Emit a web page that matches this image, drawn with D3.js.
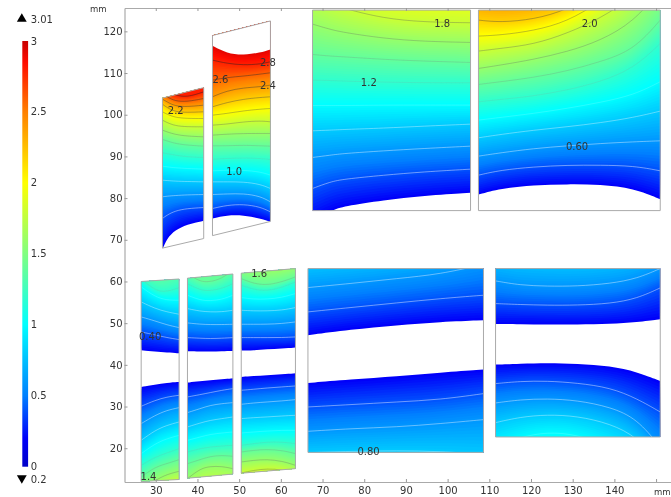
<!DOCTYPE html>
<html>
<head>
<meta charset="utf-8">
<style>
  html, body { margin: 0; padding: 0; background: #fff; }
  svg { display: block; filter: blur(0.4px); }
  text { font-family: "DejaVu Sans", sans-serif; fill: #333; }
</style>
<script src="https://cdn.jsdelivr.net/npm/d3@7"></script>
</head>
<body>
<svg id="chart" width="671" height="497"></svg>
<script>
'use strict';

// value of each row in the contour tables below
var levels = [0.2, 0.4, 0.6, 0.8, 1.0, 1.2, 1.4, 1.6, 1.8, 2.0, 2.2, 2.4, 2.6, 2.8, 3.0];

var colorValues = [0, 0.2, 0.5, 1, 1.5, 2, 2.5, 2.85, 3];
var colorHexes = ['#0000c8', '#0000fa', '#0080ff', '#00ffff', '#80ff80', '#ffff00', '#ff8000', '#ff0c00', '#c80000'];

var xTicks = [30, 40, 50, 60, 70, 80, 90, 100, 110, 120, 130, 140, 150];
var yTicks = [20, 30, 40, 50, 60, 70, 80, 90, 100, 110, 120];
var barTicks = [0, 0.5, 1, 1.5, 2, 2.5, 3];
var rangeMax = 3.01;
var rangeMin = 0.2;

// label, x mm, y mm
var contourLabels = [
  ['2.2', 34.8, 101.1], ['2.6', 45.5, 108.5], ['2.8', 56.9, 112.5], ['2.4', 56.9, 107.1],
  ['1.0', 48.8, 86.5], ['1.8', 98.7, 121.9], ['1.2', 81.1, 107.8], ['2.0', 134.1, 121.9],
  ['0.60', 131.05, 92.3], ['0.40', 28.65, 46.9], ['1.4', 28.25, 13.1], ['1.6', 54.8, 61.9],
  ['0.80', 81.05, 19.3]
];

// --- top row, small block
var outlineA = [[31.6, 104], [41.5, 106.5], [41.5, 70.3], [31.6, 68]];
var colsA = [31.6, 32.65, 34.65, 37.45, 41.53];
var upA = [
  [67.66, 70.3, 72.3, 73.74, 74.54], [75.1, 75.9, 76.94, 77.5, 77.74], [80.3, 80.46, 80.62, 80.78, 80.86],
  [84.3, 84.22, 84.06, 83.98, 83.9], [87.66, 87.5, 87.26, 87.1, 86.94], [90.86, 90.7, 90.3, 89.9, 89.74],
  [94.06, 93.74, 93.1, 92.7, 92.46], [96.3, 95.9, 95.26, 94.86, 94.7], [98.7, 98.14, 97.34, 97.1, 97.1],
  [100.7, 100.14, 99.34, 99.1, 99.1], [102.54, 101.74, 100.7, 100.54, 100.7], [103.74, 103.1, 102.06, 101.9, 102.3],
  [104.94, 104.3, 103.26, 103.1, 103.9], [106.3, 105.74, 104.7, 104.14, 105.5]
];

// --- top row, tall block
var outlineB = [[43.6, 119], [57.5, 122.5], [57.5, 74.4], [43.6, 71]];
var colsB = [43.6, 47.05, 51.05, 55.05, 57.5];
var upB = [
  [75.1, 75.9, 75.9, 75.1, 74.3], [77.5, 78.3, 78.54, 77.9, 76.7], [80.86, 81.0, 81.1, 80.46, 79.1],
  [83.9, 83.9, 83.9, 83.34, 82.3], [86.54, 86.7, 86.7, 86.3, 85.5], [89.34, 89.5, 89.66, 89.5, 89.26],
  [92.54, 92.54, 92.7, 92.54, 92.46], [95.1, 95.34, 95.5, 95.5, 95.5], [97.5, 97.74, 98.3, 98.54, 98.3],
  [99.9, 100.3, 100.94, 101.34, 101.5], [101.9, 102.94, 103.74, 104.14, 104.3], [104.3, 105.74, 106.46, 106.7, 107.1],
  [108.3, 108.94, 109.26, 109.74, 110.06], [113.1, 112.3, 111.9, 112.14, 112.7], [117.9, 115.9, 115.5, 115.9, 117.1]
];
var capB = [116.54, 114.7, 114.3, 114.86, 115.66];

// --- top row, wide blocks
var outlineC = [[67.6, 125.1], [105.5, 125.1], [105.5, 77], [67.6, 77]];
var colsC = [67.6, 71.85, 75.05, 84.65, 94.25, 105.5];
var upC = [
  [74.7, 76.94, 78.06, 79.5, 80.54, 81.26], [82.3, 83.9, 84.54, 85.5, 86.3, 86.94], [89.74, 90.3, 90.7, 91.34, 91.9, 92.46],
  [96.14, 96.3, 96.46, 96.78, 97.26, 97.74], [102.2, 102.2, 102.2, 102.3, 102.3, 102.3], [108.3, 108.22, 108.06, 107.82, 107.66, 107.66],
  [114.46, 114.06, 113.9, 113.26, 112.86, 112.54], [121.74, 120.46, 119.74, 118.3, 117.58, 117.34], [129.1, 126.7, 125.5, 123.1, 122.22, 122.06],
  [137.1, 134.7, 133.1, 129.9, 129.1, 129.1]
];

var outlineD = [[107.4, 125.1], [151, 125.1], [151, 77], [107.4, 77]];
var colsD = [107.4, 112.65, 120.65, 128.65, 136.65, 144.65, 151];
var upD = [
  [80.86, 82.3, 83.1, 83.34, 83.26, 82.3, 79.74], [85.5, 86.7, 87.5, 87.9, 87.9, 87.74, 86.54], [90.06, 90.86, 91.9, 92.54, 93.1, 93.5, 93.74],
  [94.46, 95.26, 96.3, 97.1, 98.06, 99.34, 100.86], [98.7, 99.34, 100.3, 101.5, 102.94, 104.7, 107.9], [103.1, 103.66, 104.46, 105.9, 107.9, 111.1, 117.1],
  [107.26, 107.9, 108.94, 110.46, 112.7, 115.5, 122.7], [111.1, 111.9, 113.26, 115.1, 117.74, 122.3, 129.9], [115.26, 115.9, 116.86, 119.5, 123.1, 128.3, 135.5],
  [118.86, 119.1, 120.14, 122.3, 127.1, 133.1, 141.1], [122.7, 122.14, 122.86, 125.1, 129.9, 137.1, 145.9], [127.5, 126.54, 127.5, 129.9, 134.7, 141.1, 150.7],
  [132.3, 131.5, 132.3, 134.7, 139.5, 145.9, 155.5]
];

// --- bottom row, three narrow blocks
var outlineE = [[26.5, 60], [35.6, 60.6], [35.6, 12.5], [26.5, 12]];
var colsE = [26.5, 29.85, 32.65, 35.6];
var upE = [
  [43.5, 43.18, 42.94, 42.78], [47.9, 47.18, 46.54, 46.06], [51.5, 50.54, 49.58, 48.94], [55.1, 53.5, 52.7, 52.14],
  [58.7, 56.3, 55.5, 55.5], [60.7, 57.74, 57.5, 58.54], [62.7, 61.1, 61.1, 62.7]
];
var downE = [
  [34.7, 35.26, 35.66, 35.9], [30.06, 31.5, 32.3, 32.7], [25.9, 27.9, 29.1, 29.74], [21.9, 24.3, 25.5, 26.3],
  [18.7, 21.1, 22.3, 23.1], [15.9, 17.9, 18.86, 19.9], [13.1, 15.5, 16.3, 17.26], [9.9, 12.3, 13.74, 14.46],
  [5.9, 8.3, 11.5, 12.3], [1.9, 4.3, 7.5, 8.3]
];

var outlineF = [[37.6, 60.8], [48.5, 61.8], [48.5, 13.8], [37.6, 12.8]];
var colsF = [37.6, 40.65, 43.05, 45.85, 48.5];
var upF = [
  [43.26, 43.18, 43.18, 43.26, 43.34], [46.54, 46.38, 46.3, 46.38, 46.54], [50.06, 49.74, 49.66, 49.66, 49.74], [53.5, 52.86, 52.7, 52.7, 53.1],
  [56.7, 55.5, 55.34, 55.66, 56.7], [59.5, 57.9, 57.74, 58.3, 59.5], [61.9, 59.9, 59.9, 60.7, 62.7]
];
var downF = [
  [35.74, 36.06, 36.3, 36.54, 36.78], [32.3, 32.86, 33.34, 33.9, 34.3], [28.54, 29.5, 30.3, 30.7, 30.94], [25.1, 26.06, 26.7, 27.1, 27.5],
  [21.9, 22.7, 23.34, 23.66, 23.9], [19.1, 19.9, 20.3, 20.54, 20.7], [16.3, 17.26, 18.06, 18.3, 18.06], [12.7, 15.1, 15.66, 15.66, 15.1],
  [8.3, 10.7, 11.5, 11.5, 10.7]
];

var outlineG = [[50.5, 62], [63.5, 63.1], [63.5, 15.1], [50.5, 14]];
var colsG = [50.5, 53.45, 56.65, 60.25, 63.5];
var upG = [
  [43.42, 43.5, 43.74, 43.9, 44.14], [46.54, 46.54, 46.54, 46.54, 46.7], [49.74, 49.74, 49.74, 49.9, 50.3], [53.1, 52.94, 52.94, 53.1, 53.74],
  [56.14, 55.74, 55.74, 56.14, 57.1], [59.1, 58.06, 57.74, 58.54, 59.9], [60.7, 59.5, 59.1, 59.9, 61.1], [63.5, 62.7, 62.54, 62.7, 63.5],
  [65.9, 65.1, 65.1, 65.1, 65.9]
];
var downG = [
  [37.1, 37.34, 37.5, 37.74, 37.98], [33.9, 34.14, 34.46, 34.7, 34.94], [30.54, 30.86, 31.1, 31.34, 31.66], [27.1, 27.34, 27.5, 27.74, 27.9],
  [23.66, 23.9, 24.14, 24.3, 24.3], [20.7, 21.1, 21.5, 21.5, 21.1], [19.1, 19.5, 19.74, 19.5, 18.7], [16.7, 17.1, 17.34, 16.94, 15.9],
  [14.06, 14.7, 15.1, 14.86, 14.06], [10.7, 11.5, 11.9, 11.5, 10.7]
];

// --- bottom row, wide blocks
var outlineH = [[66.5, 63.1], [108.6, 63.1], [108.6, 19], [66.5, 19]];
var colsH = [66.5, 76.65, 87.85, 98.25, 108.6];
var upH = [
  [47.1, 48.46, 49.5, 50.3, 50.7], [52.7, 53.74, 54.86, 55.9, 56.7], [58.54, 59.5, 60.7, 61.74, 64.1], [64.3, 65.1, 66.3, 67.5, 69.9]
];
var downH = [
  [35.66, 36.46, 37.26, 38.14, 38.86], [29.9, 30.46, 31.1, 31.66, 33.1], [24.06, 24.7, 25.1, 25.9, 26.86], [18.94, 19.26, 19.42, 19.26, 18.54],
  [12.3, 13.1, 13.5, 13.1, 12.3]
];

var outlineI = [[111.5, 63.1], [151, 63.1], [151, 22.7], [111.5, 22.7]];
var colsI = [111.5, 117.45, 123.85, 131.05, 139.05, 145.45, 151];
var upI = [
  [49.82, 49.74, 49.66, 49.66, 49.82, 50.22, 50.94], [54.7, 54.46, 54.3, 54.3, 54.7, 55.9, 58.46], [60.14, 59.1, 58.86, 58.86, 59.5, 60.7, 63.1],
  [65.9, 65.1, 64.7, 64.7, 65.1, 66.3, 69.1]
];
var downI = [
  [40.06, 40.3, 40.46, 40.3, 39.74, 38.3, 36.14], [35.5, 36.06, 36.14, 35.66, 34.54, 31.9, 28.7], [30.86, 31.66, 31.9, 31.5, 29.9, 27.1, 20.3],
  [26.14, 27.5, 28.06, 27.74, 25.9, 22.7, 16.3], [20.3, 22.7, 23.9, 23.34, 20.3, 15.5, 9.9]
];

var panels = [
  { outline: outlineA, cols: colsA, up: upA },
  { outline: outlineB, cols: colsB, up: upB, cap: capB },
  { outline: outlineC, cols: colsC, up: upC },
  { outline: outlineD, cols: colsD, up: upD },
  { outline: outlineE, cols: colsE, up: upE, down: downE },
  { outline: outlineF, cols: colsF, up: upF, down: downF },
  { outline: outlineG, cols: colsG, up: upG, down: downG },
  { outline: outlineH, cols: colsH, up: upH, down: downH },
  { outline: outlineI, cols: colsI, up: upI, down: downI }
];

var svg = d3.select('#chart');
var defs = svg.append('defs');

var x = d3.scaleLinear().domain([22.5, 153.7]).range([124.5, 671.5]);
var y = d3.scaleLinear().domain([11.9, 125.6]).range([482, 8]);
var barY = d3.scaleLinear().domain([0, 3]).range([466.7, 41]);
var color = d3.scaleLinear().domain(colorValues).range(colorHexes).clamp(true);
var lineGray = d3.scaleLinear().domain([0.4, 1, 1.2, 1.6, 2.8]).range(['#ffffff', '#ffffff', '#909090', '#666666', '#222222']);
var lineAlpha = d3.scaleLinear().domain([0.4, 0.8, 1, 1.2, 1.6, 2.8]).range([0.55, 0.45, 0.2, 0.2, 0.4, 0.6]);

// rows of a contour table, at a level between the rows
function rowAt(rows, level) {
  var pos = (level - levels[0]) / 0.2;
  var i = Math.min(Math.floor(pos + 1e-6), rows.length - 2);
  var t = pos - i;
  return rows[i].map(function (v, k) { return v + (rows[i + 1][k] - v) * t; });
}

function drawField(group, cols, rows, far) {
  var area = d3.area()
    .x(function (d) { return x(d[0]); })
    .y0(function (d) { return y(d[1]); })
    .y1(y(far))
    .curve(d3.curveBasis);
  var top = levels[rows.length - 1];
  // painted low to high, each band covers everything beyond its own contour
  d3.range(levels[0], top + 0.001, 0.02).forEach(function (level) {
    var ys = rowAt(rows, level);
    group.append('path')
      .attr('d', area(cols.map(function (c, k) { return [c, ys[k]]; })))
      .attr('fill', color(level));
  });
}

function drawContours(group, cols, rows) {
  var line = d3.line()
    .x(function (d) { return x(d[0]); })
    .y(function (d) { return y(d[1]); })
    .curve(d3.curveBasis);
  rows.forEach(function (row, i) {
    if (i == 0 || levels[i] > 2.81) return;
    group.append('path')
      .attr('d', line(cols.map(function (c, k) { return [c, row[k]]; })))
      .attr('fill', 'none')
      .attr('stroke', lineGray(levels[i]))
      .attr('stroke-opacity', lineAlpha(levels[i]))
      .attr('stroke-width', 0.8);
  });
}

panels.forEach(function (p, idx) {
  var points = p.outline.map(function (d) { return [x(d[0]), y(d[1])]; }).join(' ');
  defs.append('clipPath').attr('id', 'clip' + idx).append('polygon').attr('points', points);
  var g = svg.append('g').attr('clip-path', 'url(#clip' + idx + ')');

  drawField(g, p.cols, p.up, 200);
  if (p.down) drawField(g, p.cols, p.down, -50);
  drawContours(g, p.cols, p.up);
  if (p.down) drawContours(g, p.cols, p.down);

  if (p.cap) {
    g.append('path')
      .attr('d', d3.area()
        .x(function (d) { return x(d[0]); })
        .y0(function (d) { return y(d[1]); })
        .y1(y(200))
        .curve(d3.curveBasis)(p.cols.map(function (c, k) { return [c, p.cap[k]]; })))
      .attr('fill', '#fff');
  }

  svg.append('polygon')
    .attr('points', points)
    .attr('fill', 'none')
    .attr('stroke', '#aaa')
    .attr('stroke-width', 1);
});

svg.selectAll('.clabel')
  .data(contourLabels)
  .enter().append('text')
  .attr('class', 'clabel')
  .attr('x', function (d) { return x(d[1]); })
  .attr('y', function (d) { return y(d[2]); })
  .attr('dy', '.35em')
  .attr('text-anchor', 'middle')
  .attr('font-size', 10)
  .text(function (d) { return d[0]; });

// axes: frame on three sides, ticks pointing inwards
function styleAxis(g) {
  g.selectAll('.domain').attr('stroke', '#aaa').attr('stroke-width', 1.2);
  g.selectAll('.tick line').attr('stroke', '#999');
  g.selectAll('.tick text').attr('font-size', 10).attr('font-family', '"DejaVu Sans", sans-serif').attr('fill', '#333');
}

svg.append('g').attr('transform', 'translate(0,482)')
  .call(d3.axisBottom(x).tickValues(xTicks).tickSize(-3).tickSizeOuter(0).tickPadding(5)
    .tickFormat(function (d) { return d == 150 ? '' : d; }))
  .call(styleAxis);
svg.append('g').attr('transform', 'translate(0,8)')
  .call(d3.axisTop(x).tickValues(xTicks).tickSize(-3).tickSizeOuter(0).tickFormat(''))
  .call(styleAxis);
svg.append('g').attr('transform', 'translate(124.5,0)')
  .call(d3.axisLeft(y).tickValues(yTicks).tickSize(-3).tickSizeOuter(0).tickPadding(2))
  .call(styleAxis);

svg.append('text').attr('x', 90).attr('y', 12).attr('font-size', 8.5).text('mm');
svg.append('text').attr('x', 654).attr('y', 495).attr('font-size', 8.5).text('mm');

// colour legend
var gradient = defs.append('linearGradient').attr('id', 'barGrad')
  .attr('x1', 0).attr('y1', 1).attr('x2', 0).attr('y2', 0);
colorValues.forEach(function (v, i) {
  gradient.append('stop').attr('offset', v / 3).attr('stop-color', colorHexes[i]);
});
svg.append('rect')
  .attr('x', 22.3).attr('y', barY(3))
  .attr('width', 5.8).attr('height', barY(0) - barY(3))
  .attr('fill', 'url(#barGrad)');

svg.selectAll('.btick')
  .data(barTicks)
  .enter().append('text')
  .attr('class', 'btick')
  .attr('x', 30.7)
  .attr('y', function (d) { return barY(d); })
  .attr('dy', '.35em')
  .attr('font-size', 10)
  .text(function (d) { return d; });

svg.append('path')
  .attr('d', d3.symbol(d3.symbolTriangle, 42)())
  .attr('transform', 'translate(21.8,19)')
  .attr('fill', '#000');
svg.append('path')
  .attr('d', d3.symbol(d3.symbolTriangle, 42)())
  .attr('transform', 'translate(21.8,478) rotate(180)')
  .attr('fill', '#000');
svg.append('text').attr('x', 30.7).attr('y', 19).attr('dy', '.35em').attr('font-size', 10).text(rangeMax);
svg.append('text').attr('x', 30.7).attr('y', 479).attr('dy', '.35em').attr('font-size', 10).text(rangeMin);
</script>
</body>
</html>
